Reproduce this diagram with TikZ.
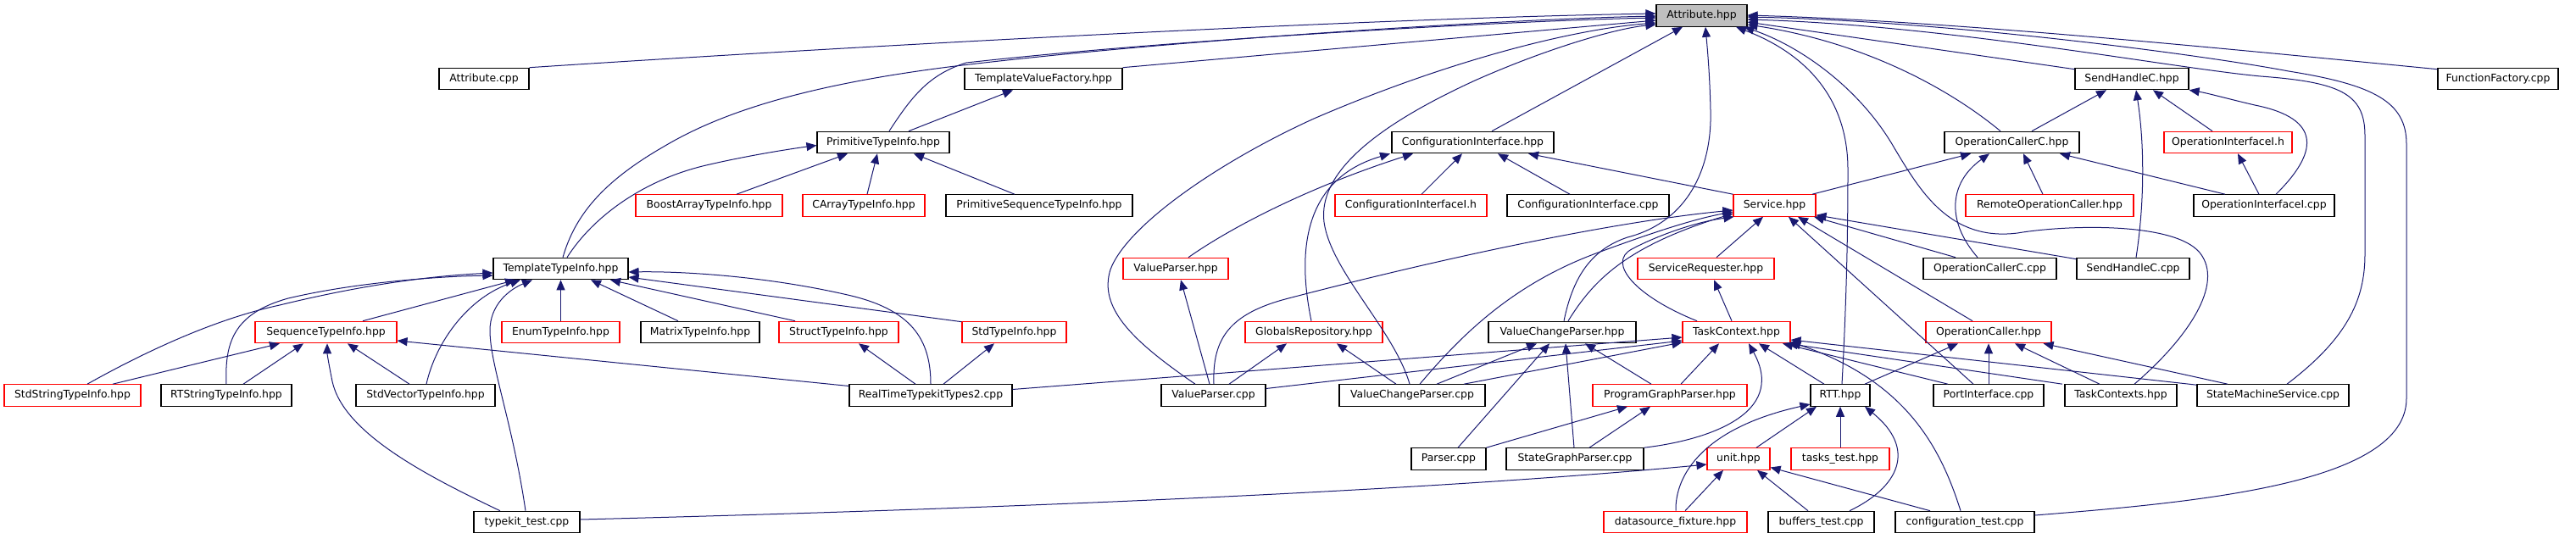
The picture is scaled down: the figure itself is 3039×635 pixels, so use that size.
\documentclass[tikz,border=0pt]{standalone}
\usepackage{fontspec}
\newfontfamily\dvs{DejaVu Sans}
\usetikzlibrary{arrows.meta}
\definecolor{edgec}{HTML}{191970}
\definecolor{grayfill}{HTML}{BFBFBF}
\begin{document}
\begin{tikzpicture}[x=1pt,y=-1pt,
  box/.style={draw=black, line width=1.1pt, fill=white, minimum height=25.5pt, inner sep=0pt, font={\dvs\fontsize{12.4}{14}\selectfont}},
  rbox/.style={box, draw=red},
  e/.style={draw=edgec, line width=1pt, -{Triangle[length=12pt,width=10pt]}}]
\useasboundingbox (0,0) rectangle (3039,635);
% row 0
\node[box, fill=grayfill, minimum width=107pt] (A) at (2007.5,18.5) {Attribute.hpp};
% row 1
\node[box, minimum width=106pt] (acpp) at (571,93) {Attribute.cpp};
\node[box, minimum width=186pt] (tvf) at (1231,93) {TemplateValueFactory.hpp};
\node[box, minimum width=134pt] (shc) at (2515,93) {SendHandleC.hpp};
\node[box, minimum width=142pt] (ff) at (2947,93) {FunctionFactory.cpp};
% row 2
\node[box, minimum width=156pt] (pti) at (1042,168) {PrimitiveTypeInfo.hpp};
\node[box, minimum width=191pt] (ci) at (1737.5,168) {ConfigurationInterface.hpp};
\node[box, minimum width=159pt] (occ) at (2373.5,168) {OperationCallerC.hpp};
\node[rbox, minimum width=151pt] (oih) at (2628.5,168) {OperationInterfaceI.h};
% row 3
\node[rbox, minimum width=173pt] (bat) at (836.5,242.5) {BoostArrayTypeInfo.hpp};
\node[rbox, minimum width=144pt] (cat) at (1019,242.5) {CArrayTypeInfo.hpp};
\node[box, minimum width=220pt] (pst) at (1226,242.5) {PrimitiveSequenceTypeInfo.hpp};
\node[rbox, minimum width=179pt] (cih) at (1664.5,242.5) {ConfigurationInterfaceI.h};
\node[box, minimum width=191pt] (cicpp) at (1873.5,242.5) {ConfigurationInterface.cpp};
\node[rbox, minimum width=97pt] (srv) at (2093.5,242.5) {Service.hpp};
\node[rbox, minimum width=198pt] (roc) at (2418,242.5) {RemoteOperationCaller.hpp};
\node[box, minimum width=166pt] (oicpp) at (2671,242.5) {OperationInterfaceI.cpp};
% row 4
\node[box, minimum width=159pt] (tti) at (661.5,317) {TemplateTypeInfo.hpp};
\node[rbox, minimum width=124pt] (vph) at (1387,317) {ValueParser.hpp};
\node[rbox, minimum width=161pt] (sr) at (2012.5,317) {ServiceRequester.hpp};
\node[box, minimum width=157pt] (occpp) at (2347.5,317) {OperationCallerC.cpp};
\node[box, minimum width=133pt] (shcpp) at (2516.5,317) {SendHandleC.cpp};
% row 5
\node[rbox, minimum width=167pt] (sti) at (384.5,392) {SequenceTypeInfo.hpp};
\node[rbox, minimum width=139pt] (eti) at (661.5,392) {EnumTypeInfo.hpp};
\node[box, minimum width=140pt] (mti) at (826,392) {MatrixTypeInfo.hpp};
\node[rbox, minimum width=141pt] (sti2) at (989.5,392) {StructTypeInfo.hpp};
\node[rbox, minimum width=123pt] (stdti) at (1196.5,392) {StdTypeInfo.hpp};
\node[rbox, minimum width=162pt] (gr) at (1550,392) {GlobalsRepository.hpp};
\node[box, minimum width=174pt] (vcph) at (1843,392) {ValueChangeParser.hpp};
\node[rbox, minimum width=127pt] (tc) at (2048.5,392) {TaskContext.hpp};
\node[rbox, minimum width=148pt] (oc) at (2346,392) {OperationCaller.hpp};
% row 6
\node[rbox, minimum width=161pt] (ssti) at (85.5,466.5) {StdStringTypeInfo.hpp};
\node[box, minimum width=154pt] (rsti) at (267,466.5) {RTStringTypeInfo.hpp};
\node[box, minimum width=164pt] (svti) at (502,466.5) {StdVectorTypeInfo.hpp};
\node[box, minimum width=192pt] (rtt2) at (1098,466.5) {RealTimeTypekitTypes2.cpp};
\node[box, minimum width=123pt] (vpcpp) at (1431.5,466.5) {ValueParser.cpp};
\node[box, minimum width=172pt] (vcpcpp) at (1666,466.5) {ValueChangeParser.cpp};
\node[rbox, minimum width=182pt] (pgp) at (1970,466.5) {ProgramGraphParser.hpp};
\node[box, minimum width=70pt] (rtt) at (2171,466.5) {RTT.hpp};
\node[box, minimum width=130pt] (pic) at (2346,466.5) {PortInterface.cpp};
\node[box, minimum width=132pt] (tcs) at (2502,466.5) {TaskContexts.hpp};
\node[box, minimum width=179pt] (sms) at (2681.5,466.5) {StateMachineService.cpp};
% row 7
\node[box, minimum width=88pt] (pcpp) at (1709,541.5) {Parser.cpp};
\node[box, minimum width=162pt] (sgp) at (1858,541.5) {StateGraphParser.cpp};
\node[rbox, minimum width=74pt] (unit) at (2051,541.5) {unit.hpp};
\node[rbox, minimum width=116pt] (tt) at (2171,541.5) {tasks\_test.hpp};
% row 8
\node[box, minimum width=125pt] (tk) at (621.5,616) {typekit\_test.cpp};
\node[rbox, minimum width=169pt] (dsf) at (1976.5,616) {datasource\_fixture.hpp};
\node[box, minimum width=125pt] (bt) at (2148.5,616) {buffers\_test.cpp};
\node[box, minimum width=164pt] (ct) at (2318,616) {configuration\_test.cpp};

% ---- edges into Attribute.hpp
\draw[e] (acpp.north east) .. controls (1000,55) and (1600,22) .. ([yshift=2.5pt]A.west);
\draw[e] (tvf.north east) -- ([yshift=-5.5pt]A.west);
\draw[e] ([xshift=7pt]pti.north) .. controls (1075,115) and (1095,88) .. (1140,74) .. controls (1400,45) and (1800,24) .. ([yshift=-2.5pt]A.west);
\draw[e] ([xshift=2.5pt]tti.north) .. controls (678,255) and (710,215) .. (783,173) .. controls (850,133) and (950,100) .. (1127,78) .. controls (1400,45) and (1800,22) .. ([yshift=-0.5pt]A.west);
\draw[e] ([xshift=22.5pt]ci.north) -- ([xshift=-22.5pt]A.south);
\draw[e] ([xshift=-21.5pt]vpcpp.north) .. controls (1340,405) and (1295,365) .. (1310,318) .. controls (1330,265) and (1440,190) .. (1550,140) .. controls (1700,75) and (1850,35) .. ([yshift=-8.5pt]A.west);
\draw[e] ([xshift=-3pt]vcpcpp.north) .. controls (1645,390) and (1570,320) .. (1562,262) .. controls (1555,205) and (1620,150) .. (1740,95) .. controls (1830,55) and (1910,33) .. ([yshift=-10.5pt]A.west);
\draw[e] ([xshift=2pt]vcph.north) .. controls (1855,330) and (1875,295) .. (1920,280) .. controls (1990,262) and (2020,200) .. (2018,130) .. controls (2017,85) and (2014,55) .. ([xshift=4.5pt]A.south);
\draw[e] ([xshift=2pt]rtt.north) .. controls (2177,380) and (2180,300) .. (2180,200) .. controls (2180,120) and (2135,65) .. ([xshift=40.5pt]A.south);
\draw[e] ([xshift=16pt]tcs.north) .. controls (2580,400) and (2625,335) .. (2595,298) .. controls (2565,262) and (2440,265) .. (2380,275) .. controls (2300,285) and (2265,225) .. (2235,175) .. controls (2195,105) and (2125,55) .. ([xshift=50pt]A.south);
\draw[e] ([xshift=-13.5pt]occ.north) .. controls (2300,105) and (2200,50) .. ([yshift=-10.5pt]A.east);
\draw[e] ([yshift=-2pt]shc.north west) -- ([yshift=-7.5pt]A.east);
\draw[e] ([yshift=-2pt]ff.north west) .. controls (2600,55) and (2300,25) .. ([yshift=0.5pt]A.east);
\draw[e] ([xshift=16.5pt]sms.north) .. controls (2768,400) and (2790,355) .. (2790,300) -- (2790,160) .. controls (2790,110) and (2760,97) .. (2667,90) .. controls (2560,80) and (2300,30) .. ([yshift=-4.5pt]A.east);
\draw[e] ([yshift=8pt]ct.east) .. controls (2600,592) and (2839,570) .. (2839,470) -- (2839,170) .. controls (2839,120) and (2800,100) .. (2700,84) .. controls (2600,65) and (2300,25) .. ([yshift=-1.5pt]A.east);

% ---- PrimitiveTypeInfo / TemplateValueFactory
\draw[e] ([xshift=7.5pt]tti.north) .. controls (700,255) and (760,212) .. (833,195) .. controls (880,184) and (930,176) .. ([yshift=-3.5pt]pti.west);
\draw[e] ([xshift=32.5pt]bat.north) -- ([xshift=-42pt]pti.south);
\draw[e] ([xshift=4pt]cat.north) -- ([xshift=-7pt]pti.south);
\draw[e] ([xshift=-29pt]pst.north) -- ([xshift=36pt]pti.south);
\draw[e] ([xshift=30pt]pti.north) -- ([xshift=-36pt]tvf.south);

% ---- ConfigurationInterface.hpp
\draw[e] ([xshift=12.5pt]cih.north) -- ([xshift=-12.5pt]ci.south);
\draw[e] ([xshift=-21.5pt]cicpp.north) -- ([xshift=29.5pt]ci.south);
\draw[e] (srv.north west) -- ([xshift=65.5pt]ci.south);
\draw[e] ([xshift=15pt]vph.north) .. controls (1450,270) and (1540,222) .. ([xshift=-70.5pt]ci.south);
\draw[e] ([xshift=-3pt]gr.north) .. controls (1535,320) and (1525,215) .. ([xshift=-97.5pt]ci.south);

% ---- OperationCallerC.hpp / SendHandleC.hpp / OperationInterfaceI.h
\draw[e] ([xshift=44.5pt]srv.north) -- ([xshift=-48.5pt]occ.south);
\draw[e] ([xshift=-14.5pt]occpp.north) .. controls (2295,260) and (2300,215) .. ([xshift=-26.5pt]occ.south);
\draw[e] ([xshift=-8pt]roc.north) -- ([xshift=13.5pt]occ.south);
\draw[e] ([xshift=-46pt]oicpp.north) -- ([xshift=56.5pt]occ.south);
\draw[e] ([xshift=23.5pt]occ.north) -- ([xshift=-30pt]shc.south);
\draw[e] ([xshift=3.5pt]shcpp.north) .. controls (2530,240) and (2530,170) .. ([xshift=5pt]shc.south);
\draw[e] ([xshift=-18.5pt]oih.north) -- ([xshift=25pt]shc.south);
\draw[e] ([xshift=14pt]oicpp.north) .. controls (2735,180) and (2740,140) .. (2660,124) .. controls (2630,117) and (2605,110) .. (shc.south east);
\draw[e] ([xshift=-6pt]oicpp.north) -- ([xshift=11.5pt]oih.south);

% ---- Service.hpp
\draw[e] ([xshift=12.5pt]sr.north) -- ([xshift=-13.5pt]srv.south);
\draw[e] ([xshift=-40.5pt]occpp.north) -- ([xshift=46.5pt]srv.south);
\draw[e] ([yshift=-2pt]shcpp.north west) -- ([yshift=2pt]srv.south east);
\draw[e] ([xshift=-18pt]pic.north) -- ([xshift=16.5pt]srv.south);
\draw[e] ([xshift=-19pt]oc.north) -- ([xshift=27.5pt]srv.south);
\draw[e] ([xshift=-46.5pt]tc.north) .. controls (1930,350) and (1895,310) .. (1925,294) .. controls (1955,278) and (2000,262) .. ([xshift=1pt]srv.south west);
\draw[e] ([xshift=7pt]vcph.north) .. controls (1880,330) and (1920,290) .. ([yshift=-9.5pt]srv.west);
\draw[e] ([xshift=9pt]vcpcpp.north) .. controls (1720,400) and (1780,338) .. (1880,300) .. controls (1950,274) and (2000,258) .. ([yshift=-7.5pt]srv.west);
\draw[e] ([xshift=0.5pt]vpcpp.north) .. controls (1430,400) and (1450,370) .. (1520,352) .. controls (1700,305) and (1900,262) .. ([yshift=-5.5pt]srv.west);

% ---- TemplateTypeInfo.hpp
\draw[e] ([xshift=43.5pt]sti.north) -- ([xshift=-53.5pt]tti.south);
\draw[e] (eti.north) -- (tti.south);
\draw[e] ([xshift=-26pt]mti.north) -- ([xshift=35.5pt]tti.south);
\draw[e] ([xshift=-51.5pt]sti2.north) -- ([xshift=58.5pt]tti.south);
\draw[e] ([yshift=-1pt]stdti.north west) -- ([yshift=-10pt]tti.east);
\draw[e] (rtt2.north) .. controls (1098,400) and (1075,365) .. (1000,348) .. controls (900,325) and (800,320) .. ([yshift=-4pt]tti.east);
\draw[e] ([xshift=17.5pt]ssti.north) .. controls (180,410) and (260,375) .. (330,360) .. controls (420,338) and (500,326) .. ([yshift=-5pt]tti.west);
\draw[e] (rsti.north) .. controls (265,405) and (275,370) .. (340,352) .. controls (420,333) and (520,326) .. ([yshift=-8pt]tti.west);
\draw[e] ([xshift=1pt]svti.north) .. controls (515,400) and (555,350) .. ([xshift=-47.5pt]tti.south);
\draw[e] ([xshift=-1.5pt]tk.north) .. controls (605,500) and (578,430) .. (578,390) .. controls (578,360) and (600,342) .. ([xshift=-33.5pt]tti.south);

% ---- SequenceTypeInfo.hpp, StructTypeInfo.hpp, StdTypeInfo.hpp
\draw[e] ([xshift=47.5pt]ssti.north) -- ([xshift=-54.5pt]sti.south);
\draw[e] ([xshift=20pt]rsti.north) -- ([xshift=-26.5pt]sti.south);
\draw[e] ([xshift=-19pt]svti.north) -- ([xshift=25.5pt]sti.south);
\draw[e] ([xshift=-31.5pt]tk.north) .. controls (500,560) and (405,510) .. (392,450) .. controls (388,430) and (386,418) .. ([xshift=1.5pt]sti.south);
\draw[e] ([yshift=11pt]rtt2.west) -- ([yshift=-10pt]sti.east);
\draw[e] ([xshift=-18pt]rtt2.north) -- ([xshift=23.5pt]sti2.south);
\draw[e] ([xshift=15pt]rtt2.north) -- ([xshift=-23.5pt]stdti.south);

% ---- ValueParser.hpp, GlobalsRepository.hpp
\draw[e] ([xshift=-4.5pt]vpcpp.north) -- ([xshift=6pt]vph.south);
\draw[e] ([xshift=18.5pt]vpcpp.north) -- ([xshift=-32pt]gr.south);
\draw[e] ([xshift=-19pt]vcpcpp.north) -- ([xshift=27pt]gr.south);

% ---- ValueChangeParser.hpp, ProgramGraphParser.hpp
\draw[e] ([xshift=29pt]vcpcpp.north) -- ([xshift=-30pt]vcph.south);
\draw[e] ([xshift=11pt]pcpp.north) -- ([xshift=-15pt]vcph.south);
\draw[e] ([xshift=-1pt]sgp.north) -- ([xshift=4pt]vcph.south);
\draw[e] ([xshift=-22pt]pgp.north) -- ([xshift=27pt]vcph.south);
\draw[e] (pcpp.north east) -- ([xshift=-50pt]pgp.south);
\draw[e] ([xshift=17pt]sgp.north) -- ([xshift=-23pt]pgp.south);

% ---- TaskContext.hpp
\draw[e] ([xshift=13pt]pgp.north) -- ([xshift=-20.5pt]tc.south);
\draw[e] (sgp.north east) .. controls (2010,520) and (2110,490) .. ([xshift=14.5pt]tc.south);
\draw[e] ([xshift=-19pt]rtt.north) -- ([xshift=26.5pt]tc.south);
\draw[e] ([xshift=-48pt]pic.north) -- ([xshift=54.5pt]tc.south);
\draw[e] ([xshift=-69pt]tcs.north) -- ([xshift=-4pt]tc.south east);
\draw[e] ([yshift=-1pt]sms.north west) -- ([yshift=-9pt]tc.east);
\draw[e] ([xshift=-5pt]ct.north) .. controls (2290,530) and (2250,450) .. ([yshift=-11.5pt]tc.east);
\draw[e] ([yshift=7pt]rtt2.east) -- ([yshift=-6pt]tc.west);
\draw[e] ([yshift=8pt]vpcpp.east) -- ([yshift=-10pt]tc.west);
\draw[e] ([xshift=61pt]vcpcpp.north) -- ([yshift=-12pt]tc.west);
\draw[e] ([xshift=-5.5pt]tc.north) -- ([xshift=9.5pt]sr.south);

% ---- OperationCaller.hpp
\draw[e] ([xshift=29pt]rtt.north) -- ([xshift=-36pt]oc.south);
\draw[e] (pic.north) -- (oc.south);
\draw[e] ([xshift=-25pt]tcs.north) -- ([xshift=31pt]oc.south);
\draw[e] ([xshift=-53.5pt]sms.north) -- ([xshift=-10pt]oc.south east);

% ---- RTT.hpp
\draw[e] ([xshift=21pt]unit.north) -- ([xshift=-28pt]rtt.south);
\draw[e] (tt.north) -- (rtt.south);
\draw[e] ([xshift=33.5pt]bt.north) .. controls (2240,575) and (2262,530) .. ([xshift=29pt]rtt.south);
\draw[e] ([xshift=0.5pt]dsf.north) .. controls (1976,560) and (2010,505) .. ([yshift=-10.5pt]rtt.west);

% ---- unit.hpp
\draw[e] ([yshift=3pt]tk.east) .. controls (1200,600) and (1700,578) .. ([yshift=-6.5pt]unit.west);
\draw[e] ([xshift=11.5pt]dsf.north) -- ([xshift=-18pt]unit.south);
\draw[e] ([xshift=-15.5pt]bt.north) -- ([xshift=22pt]unit.south);
\draw[e] ([xshift=-41pt]ct.north) -- ([yshift=-10pt]unit.east);
\end{tikzpicture}
\end{document}
